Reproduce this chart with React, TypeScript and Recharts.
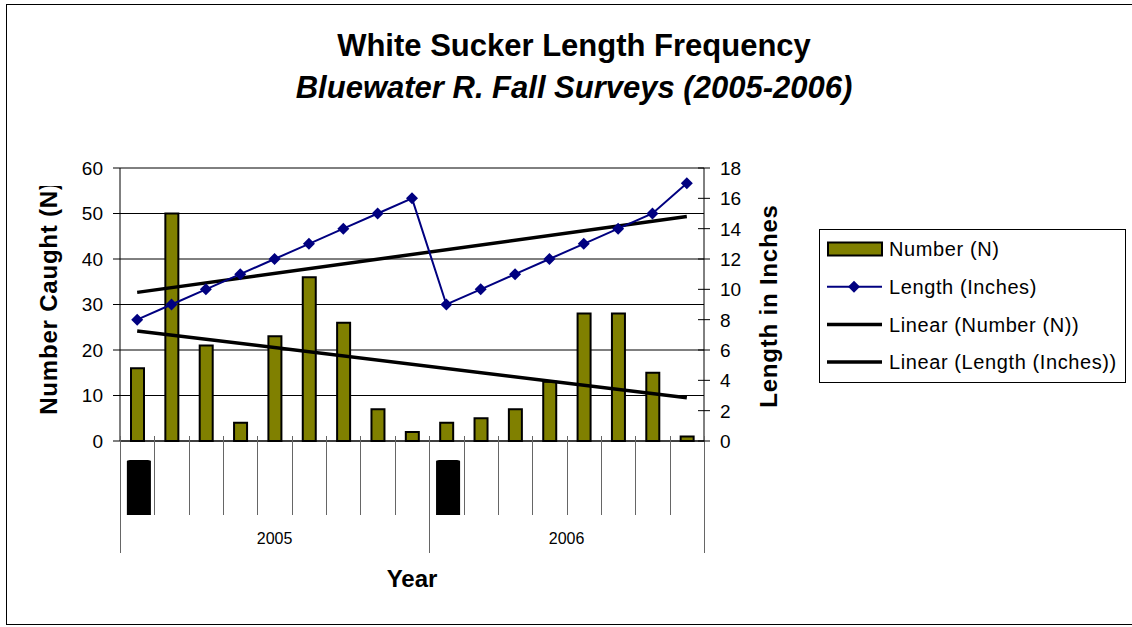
import { Bar, CartesianGrid, ComposedChart, Line, XAxis, YAxis } from "recharts"

const surveyYears = [
    "2005", "2005", "2005", "2005", "2005", "2005", "2005", "2005", "2005",
    "2006", "2006", "2006", "2006", "2006", "2006", "2006", "2006",
]
const numberCaught = [16, 50, 21, 4, 23, 36, 26, 7, 2, 4, 5, 7, 13, 28, 28, 15, 1]
const lengthInches = [8, 9, 10, 11, 12, 13, 14, 15, 16, 9, 10, 11, 12, 13, 14, 15, 17]
// trendline end values (first and last survey)
const numberTrendEnds = [24.2, 9.5]
const lengthTrendEnds = [9.8, 14.8]
const numberTicks = [0, 10, 20, 30, 40, 50, 60]
const lengthTicks = [0, 2, 4, 6, 8, 10, 12, 14, 16, 18]

const legendItems = [
    { label: "Number (N)", kind: "bar" },
    { label: "Length (Inches)", kind: "marker" },
    { label: "Linear (Number (N))", kind: "trend" },
    { label: "Linear (Length (Inches))", kind: "trend" },
]

const FONT = "'Liberation Sans', Arial, sans-serif"
const OLIVE = "#808000"
const NAVY = "#000080"

const last = surveyYears.length - 1
const rows = surveyYears.map((year, i) => ({
    id: `${year}-${i + 1}`,
    year,
    number: numberCaught[i],
    length: lengthInches[i],
    numberTrend: i === 0 ? numberTrendEnds[0] : i === last ? numberTrendEnds[1] : null,
    lengthTrend: i === 0 ? lengthTrendEnds[0] : i === last ? lengthTrendEnds[1] : null,
}))

function Diamond(props: any) {
    const { cx, cy, index } = props
    if (cx == null || cy == null) return <g key={`d-${index}`} />
    const r = 6
    return (
        <polygon
            key={`d-${index}`}
            points={`${cx},${cy - r} ${cx + r},${cy} ${cx},${cy + r} ${cx - r},${cy}`}
            fill={NAVY}
        />
    )
}

function NumberTick(props: any) {
    const { x, y, payload } = props
    return (
        <g>
            <line x1={x - 7} x2={x} y1={y} y2={y} stroke="#000" />
            <text x={x - 17} y={y} dy="0.36em" textAnchor="end" fontSize={19} fontFamily={FONT} fill="#000">
                {payload.value}
            </text>
        </g>
    )
}

function LengthTick(props: any) {
    const { x, y, payload } = props
    return (
        <g>
            <line x1={x - 6} x2={x + 6} y1={y} y2={y} stroke="#000" />
            <text x={x + 16} y={y} dy="0.36em" textAnchor="start" fontSize={19} fontFamily={FONT} fill="#000">
                {payload.value}
            </text>
        </g>
    )
}

function CategoryTick(props: any) {
    const { x, y, payload } = props
    const i = rows.findIndex((r) => r.id === payload.value)
    if (i < 0) return <g />
    const half = payload.offset || 17.2
    const left = Math.round(x - half) + 0.5
    const right = Math.round(x + half) + 0.5
    const year = rows[i].year
    const yearStart = i === 0 || rows[i - 1].year !== year
    const count = rows.filter((r) => r.year === year).length
    const bx = x - half
    return (
        <g>
            <line x1={left} x2={left} y1={y - 5} y2={y + (yearStart ? 112 : 74)} stroke="#666" />
            {i === last && <line x1={right} x2={right} y1={y - 5} y2={y + 112} stroke="#666" />}
            {yearStart && (
                <>
                    <path
                        d={`M${bx + half * 0.4},${y + 74} V${y + 20.5} Q${bx + half * 0.4},${y + 19} ${bx + half * 0.4 + 3},${y + 19} H${bx + half * 1.8 - 3} Q${bx + half * 1.8},${y + 19} ${bx + half * 1.8},${y + 20.5} V${y + 74} Z`}
                        fill="#000"
                    />
                    <text
                        x={bx + count * half}
                        y={y + 103}
                        textAnchor="middle"
                        fontSize={16}
                        fontFamily={FONT}
                        fill="#000"
                    >
                        {year}
                    </text>
                </>
            )}
        </g>
    )
}

export default function App() {
    return (
        <div style={{ position: "absolute", left: 0, top: 0, width: 1132, height: 627, overflow: "hidden", background: "#fff" }}>
            <div
                style={{
                    position: "absolute",
                    left: 6,
                    top: 4,
                    width: 1140,
                    height: 621,
                    border: "1.5px solid #000",
                    boxSizing: "border-box",
                }}
            />
            <div style={{ position: "absolute", left: 0, top: 0 }}>
                <ComposedChart
                    width={1132}
                    height={627}
                    data={rows}
                    margin={{ top: 168, right: 368, bottom: 66, left: 60 }}
                    barCategoryGap={0}
                >
                    <CartesianGrid yAxisId="left" vertical={false} stroke="#000" strokeWidth={1} />
                    <XAxis
                        dataKey="id"
                        interval={0}
                        height={120}
                        tickSize={0}
                        tickMargin={0}
                        tickLine={false}
                        axisLine={{ stroke: "#000" }}
                        tick={CategoryTick}
                    />
                    <YAxis
                        yAxisId="left"
                        domain={[0, 60]}
                        ticks={numberTicks}
                        width={60}
                        tickSize={0}
                        tickMargin={0}
                        tickLine={false}
                        axisLine={{ stroke: "#000" }}
                        tick={NumberTick}
                    />
                    <YAxis
                        yAxisId="right"
                        orientation="right"
                        domain={[0, 18]}
                        ticks={lengthTicks}
                        width={60}
                        tickSize={0}
                        tickMargin={0}
                        tickLine={false}
                        axisLine={{ stroke: "#000" }}
                        tick={LengthTick}
                    />
                    <Bar
                        yAxisId="left"
                        dataKey="number"
                        name="Number (N)"
                        fill={OLIVE}
                        stroke="#000"
                        strokeWidth={2}
                        barSize={13}
                        isAnimationActive={false}
                    />
                    <Line
                        yAxisId="left"
                        dataKey="numberTrend"
                        name="Linear (Number (N))"
                        stroke="#000"
                        strokeWidth={3.5}
                        dot={false}
                        activeDot={false}
                        connectNulls
                        isAnimationActive={false}
                    />
                    <Line
                        yAxisId="right"
                        dataKey="lengthTrend"
                        name="Linear (Length (Inches))"
                        stroke="#000"
                        strokeWidth={3.5}
                        dot={false}
                        activeDot={false}
                        connectNulls
                        isAnimationActive={false}
                    />
                    <Line
                        yAxisId="right"
                        dataKey="length"
                        name="Length (Inches)"
                        stroke={NAVY}
                        strokeWidth={2}
                        dot={Diamond}
                        activeDot={false}
                        isAnimationActive={false}
                    />
                </ComposedChart>
            </div>
            <svg
                width={1132}
                height={627}
                style={{ position: "absolute", left: 0, top: 0, pointerEvents: "none" }}
                fontFamily={FONT}
            >
                <defs>
                    <clipPath id="leftTitleClip">
                        <rect x={0} y={186} width={120} height={300} />
                    </clipPath>
                </defs>
                <text x={574} y={56} textAnchor="middle" fontSize={31} fontWeight="bold">
                    White Sucker Length Frequency
                </text>
                <text x={574} y={98} textAnchor="middle" fontSize={31} fontWeight="bold" fontStyle="italic">
                    Bluewater R. Fall Surveys (2005-2006)
                </text>
                <g clipPath="url(#leftTitleClip)">
                    <text
                        x={57}
                        y={298}
                        transform="rotate(-90 57 298)"
                        textAnchor="middle"
                        fontSize={24}
                        fontWeight="bold"
                        letterSpacing={0.8}
                    >
                        Number Caught (N)
                    </text>
                </g>
                <text
                    x={777}
                    y={306}
                    transform="rotate(-90 777 306)"
                    textAnchor="middle"
                    fontSize={24}
                    fontWeight="bold"
                    letterSpacing={0.8}
                >
                    Length in Inches
                </text>
                <text x={412} y={587} textAnchor="middle" fontSize={24} fontWeight="bold">
                    Year
                </text>
                <rect x={819.5} y={229.5} width={306} height={153} fill="#fff" stroke="#000" strokeWidth={1} />
                {legendItems.map((item, i) => {
                    const cy = 249 + i * 37.7
                    return (
                        <g key={item.label}>
                            {item.kind === "bar" && (
                                <rect x={828} y={cy - 6.5} width={54} height={13} fill={OLIVE} stroke="#000" strokeWidth={2} />
                            )}
                            {item.kind === "marker" && (
                                <>
                                    <line x1={827} x2={882} y1={cy} y2={cy} stroke={NAVY} strokeWidth={2} />
                                    <polygon
                                        points={`854,${cy - 6} 860,${cy} 854,${cy + 6} 848,${cy}`}
                                        fill={NAVY}
                                    />
                                </>
                            )}
                            {item.kind === "trend" && (
                                <line x1={827} x2={882} y1={cy} y2={cy} stroke="#000" strokeWidth={3.5} />
                            )}
                            <text x={889} y={cy} dy="0.36em" fontSize={20} letterSpacing={0.6}>
                                {item.label}
                            </text>
                        </g>
                    )
                })}
            </svg>
        </div>
    )
}
